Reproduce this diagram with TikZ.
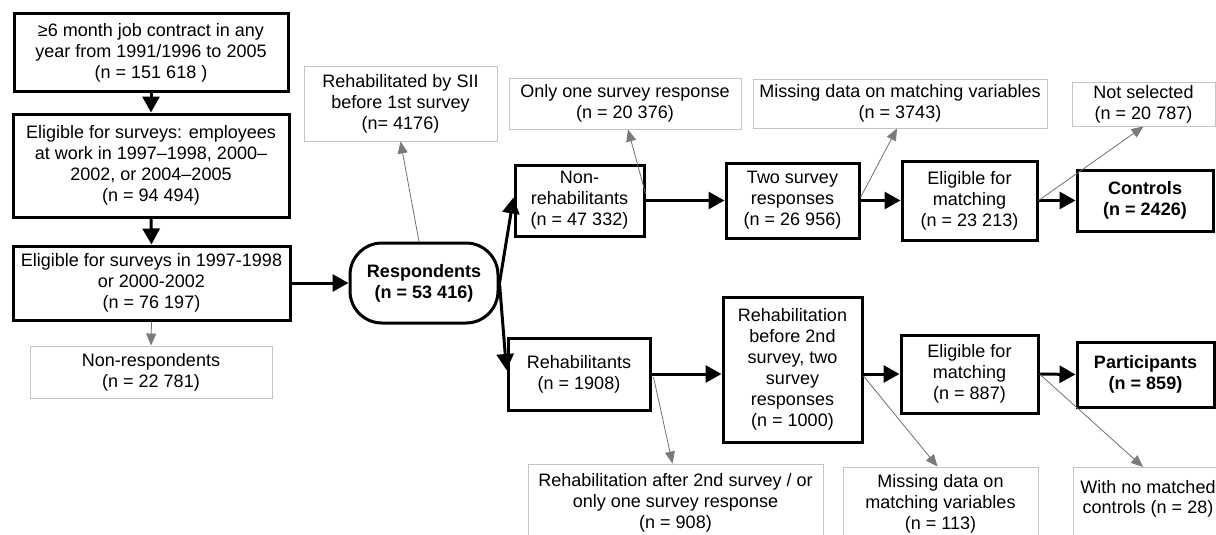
\documentclass[tikz,border=0pt]{standalone}
\usepackage{fontspec}
\setmainfont{Liberation Sans}
\usetikzlibrary{arrows.meta,calc}
\definecolor{grayline}{HTML}{707070}
\definecolor{grayfill}{HTML}{7A7A7A}
\definecolor{grayborder}{HTML}{C4C4C4}
\begin{document}
\begin{tikzpicture}[x=1pt,y=-1pt,
  every node/.style={font=\fontsize{18}{20.9}\selectfont, align=center, inner sep=1pt},
  blkbox/.style={draw=black, line width=3pt, rectangle},
  graybox/.style={draw=grayborder, line width=0.9pt, rectangle},
  roundbox/.style={draw=black, line width=3pt, rectangle, rounded corners=32pt},
  blkarrow/.style={draw=black, line width=3pt, -{Triangle[length=16pt,width=17pt]}},
  grayarrow/.style={draw=grayline, line width=0.8pt, -{Triangle[length=12pt,width=10pt,fill=grayfill,color=grayfill]}}
]
\useasboundingbox (0,0) rectangle (1216,535);

% left column
\node[blkbox, minimum width=274pt, minimum height=78pt] (b1) at (151,53)
  {≥6 month job contract in any\\year from 1991/1996 to 2005\\(n = 151 618 )};
\node[blkbox, minimum width=276pt, minimum height=103pt] (b2) at (151,165.5)
  {Eligible for surveys: employees\\at work in 1997–1998, 2000–\\2002, or 2004–2005\\(n = 94 494)};
\node[blkbox, minimum width=277pt, minimum height=74pt] (b3) at (151.5,283)
  {Eligible for surveys in 1997-1998\\or 2000-2002\\(n = 76 197)};
\node[graybox, minimum width=242pt, minimum height=52pt] (nonresp) at (151,372)
  {Non-respondents\\(n = 22 781)};

% respondents
\node[roundbox, minimum width=148pt, minimum height=80pt] (resp) at (424,283)
  {\bfseries Respondents\\\bfseries (n = 53 416)};
\node[graybox, minimum width=193pt, minimum height=75pt] (sii) at (400.5,103.5)
  {Rehabilitated by SII\\before 1st survey\\(n= 4176)};

% top row
\node[graybox, minimum width=232pt, minimum height=51pt] (onlyone) at (625,103.5)
  {Only one survey response\\(n = 20 376)};
\node[blkbox, minimum width=129pt, minimum height=71pt] (nonrehab) at (579.5,200.5)
  {Non-\\rehabilitants\\(n = 47 332)};
\node[blkbox, minimum width=133pt, minimum height=75pt] (twosurv) at (792.5,200.5)
  {Two survey\\responses\\(n = 26 956)};
\node[graybox, minimum width=294pt, minimum height=49pt] (misstop) at (900,103.5)
  {Missing data on matching variables\\(n = 3743)};
\node[blkbox, minimum width=135pt, minimum height=79pt] (eligtop) at (969.5,200.5)
  {Eligible for\\matching\\(n = 23 213)};
\node[graybox, minimum width=143pt, minimum height=44pt] (notsel) at (1143.5,104)
  {Not selected\\(n = 20 787)};
\node[blkbox, minimum width=136pt, minimum height=61pt] (controls) at (1145,200.5)
  {\bfseries Controls\\\bfseries (n = 2426)};

% bottom row
\node[blkbox, minimum width=142pt, minimum height=72pt] (rehab) at (579,374)
  {Rehabilitants\\(n = 1908)};
\node[blkbox, minimum width=139pt, minimum height=145pt] (before2) at (792.5,369.5)
  {Rehabilitation\\before 2nd\\survey, two\\survey\\responses\\(n = 1000)};
\node[blkbox, minimum width=137pt, minimum height=78pt] (eligbot) at (969.5,374)
  {Eligible for\\matching\\(n = 887)};
\node[blkbox, minimum width=137pt, minimum height=65pt] (particip) at (1145.5,374.5)
  {\bfseries Participants\\\bfseries (n = 859)};
\node[graybox, minimum width=295pt, minimum height=78pt] (after2) at (675.5,503)
  {Rehabilitation after 2nd survey / or\\only one survey response\\(n = 908)};
\node[graybox, minimum width=195pt, minimum height=74pt] (missbot) at (940.5,504)
  {Missing data on\\matching variables\\(n = 113)};
\node[graybox, minimum width=150pt, minimum height=80pt, anchor=north] (nomatch) at (1148,467)
  {With no matched\\controls (n = 28)\\\mbox{}};

% black arrows
\draw[blkarrow] (b1.south) -- (b2.north);
\draw[blkarrow] (b2.south) -- (b3.north);
\draw[blkarrow] (b3.east) -- (resp.west);
\draw[blkarrow] (resp.east) -- ($(nonrehab.west)+(0,-3)$);
\draw[blkarrow] (resp.east) -- ($(rehab.west)+(0,-4)$);
\draw[blkarrow] (nonrehab.east) -- (twosurv.west);
\draw[blkarrow] (twosurv.east) -- (eligtop.west);
\draw[blkarrow] (eligtop.east) -- (controls.west);
\draw[blkarrow] (rehab.east) -- (rehab.east -| before2.west);
\draw[blkarrow] (eligbot.west -| before2.east) -- (eligbot.west);
\draw[blkarrow] (eligbot.east) -- (particip.west);

% gray arrows
\draw[grayarrow] (b3.south) -- (nonresp.north);
\draw[grayarrow] ($(resp.north)+(-5,0)$) -- (sii.south);
\draw[grayarrow] ($(nonrehab.east)+(0,-7)$) -- ($(onlyone.south)+(3,0)$);
\draw[grayarrow] ($(twosurv.east)+(0,-3)$) -- ($(misstop.south)+(-3,0)$);
\draw[grayarrow] (eligtop.east) -- (notsel.south);
\draw[grayarrow] ($(rehab.east)+(2,3)$) -- ($(after2.north)+(-3,0)$);
\draw[grayarrow] ($(eligbot.west -| before2.east)+(0,2)$) -- ($(missbot.north)+(-3,0)$);
\draw[grayarrow] (eligbot.east) -- ($(nomatch.north)+(-5,0)$);
\end{tikzpicture}
\end{document}
